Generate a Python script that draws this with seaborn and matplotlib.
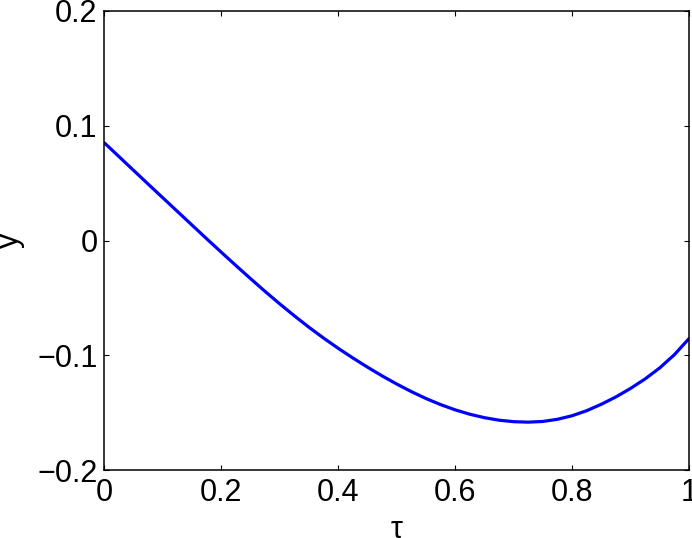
import numpy as np
import pandas as pd
import matplotlib
matplotlib.use("Agg")
import matplotlib.pyplot as plt
import seaborn as sns

tau = [0.000, 0.025, 0.050, 0.075, 0.100, 0.125, 0.150, 0.175, 0.200, 0.225,
       0.250, 0.275, 0.300, 0.325, 0.350, 0.375, 0.400, 0.425, 0.450, 0.475,
       0.500, 0.525, 0.550, 0.575, 0.600, 0.625, 0.650, 0.675, 0.700, 0.725,
       0.750, 0.775, 0.800, 0.825, 0.850, 0.875, 0.900, 0.925, 0.950, 0.975,
       1.000]
y_vals = [0.0850, 0.0730, 0.0610, 0.0490, 0.0371, 0.0252, 0.0133, 0.0014,
          -0.0103, -0.0219, -0.0333, -0.0445, -0.0553, -0.0657, -0.0757,
          -0.0851, -0.0940, -0.1024, -0.1104, -0.1180, -0.1251, -0.1317,
          -0.1377, -0.1430, -0.1476, -0.1514, -0.1544, -0.1566, -0.1579,
          -0.1583, -0.1577, -0.1558, -0.1527, -0.1483, -0.1427, -0.1363,
          -0.1289, -0.1206, -0.1110, -0.0995, -0.0855]

x_ticks = [0, 0.2, 0.4, 0.6, 0.8, 1]
x_ticklabels = ["0", "0.2", "0.4", "0.6", "0.8", "1"]
y_ticks = [-0.2, -0.1, 0, 0.1, 0.2]
y_ticklabels = ["\u22120.2", "\u22120.1", "0", "0.1", "0.2"]

df = pd.DataFrame({"tau": tau, "y": y_vals})

sns.set_theme(style="white")
plt.rcParams["font.family"] = ["Liberation Sans", "DejaVu Sans"]

fig = plt.figure(figsize=(6.92, 5.38), dpi=100)
ax = fig.add_axes([104.5 / 692, 1 - 470 / 538, (689 - 104.5) / 692, (470 - 11) / 538])

sns.lineplot(data=df, x="tau", y="y", ax=ax, color="#0000ff", linewidth=2.3)

ax.set_xlim(0, 1)
ax.set_ylim(-0.2, 0.2)
ax.set_xticks(x_ticks)
ax.set_xticklabels(x_ticklabels)
ax.set_yticks(y_ticks)
ax.set_yticklabels(y_ticklabels)

ax.tick_params(axis="both", which="both", direction="in", length=3.6, width=0.8,
               color="black", labelsize=22, labelcolor="black",
               top=True, right=True, bottom=True, left=True)
ax.tick_params(axis="x", pad=6)
ax.tick_params(axis="y", pad=5)

for sp in ax.spines.values():
    sp.set_visible(True)
    sp.set_color("black")
    sp.set_linewidth(1.1)

ax.set_xlabel("\u03c4", fontsize=22, color="black")
ax.set_ylabel("y", fontsize=22, color="black")
ax.xaxis.set_label_coords(0.5, -0.098)
ax.yaxis.set_label_coords(-0.137, 0.5)

fig.savefig("out.png", dpi=100)
